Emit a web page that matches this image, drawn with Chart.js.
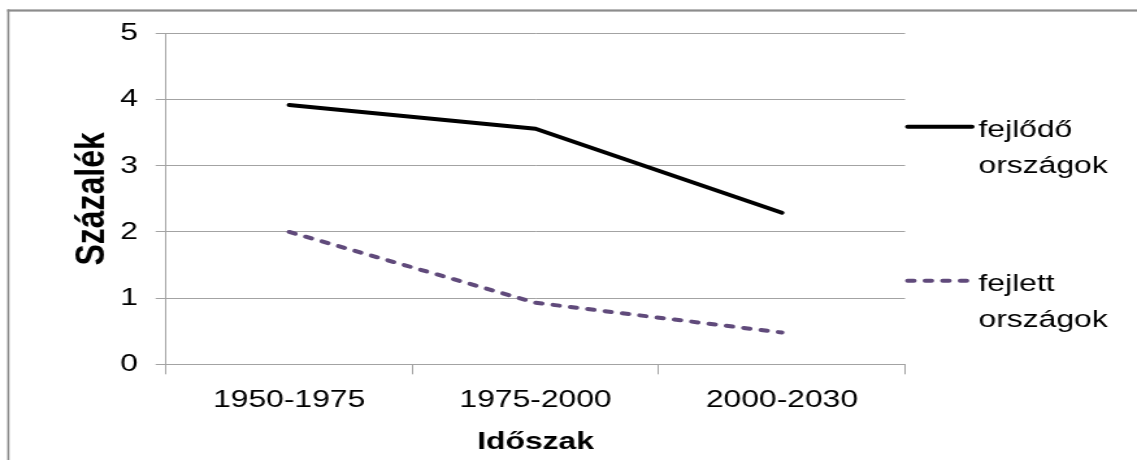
<!DOCTYPE html>
<html lang="hu">
<head>
<meta charset="utf-8">
<title>Növekedési ütem időszakonként</title>
<script src="https://cdn.jsdelivr.net/npm/chart.js@4.4.1/dist/chart.umd.min.js"></script>
<style>
  html, body { margin: 0; padding: 0; background: #fff; overflow: hidden; }
  /* the drawing is laid out on a narrower canvas and widened to the page width */
  #wrap { width: 875px; height: 460px; transform: scaleX(1.29943); transform-origin: 0 0; }
  canvas { display: block; }
</style>
</head>
<body>
<div id="wrap"><canvas id="chart" width="875" height="460"></canvas></div>
<script>
// Periods on the category axis
const periods = ['1950-1975', '1975-2000', '2000-2030'];
// Annual growth, percent
const developing = [3.92, 3.56, 2.29];
const developed = [2.0, 0.93, 0.48];
// Series and axis names
const seriesNames = ['fejlődő országok', 'fejlett országok'];
const axisTitles = { x: 'Időszak', y: 'Százalék' };

const FONT = "'Liberation Sans', Arial, Helvetica, sans-serif";
const GRID = '#a3a3a3';
Chart.defaults.font.family = FONT;

// White page with the grey frame around the chart object
const frame = {
  id: 'frame',
  beforeDraw(chart) {
    const ctx = chart.ctx;
    ctx.save();
    ctx.fillStyle = '#fff';
    ctx.fillRect(0, 0, chart.width, chart.height);
    ctx.fillStyle = '#8c8c8c';
    ctx.fillRect(5.6, 9.4, chart.width, 2.2);
    ctx.fillRect(5.6, 9.4, 1.6, chart.height);
    ctx.restore();
  }
};

// Legend to the right of the plot: line sample plus name wrapped onto two lines
const sideLegend = {
  id: 'sideLegend',
  afterDraw(chart, args, opts) {
    const ctx = chart.ctx;
    const x0 = chart.chartArea.right;
    ctx.save();
    chart.data.datasets.forEach((ds, i) => {
      const y = opts.rows[i];
      ctx.beginPath();
      ctx.strokeStyle = ds.borderColor;
      ctx.lineWidth = ds.borderWidth;
      ctx.lineCap = ds.borderCapStyle || 'butt';
      ctx.setLineDash(ds.borderDash || []);
      ctx.moveTo(x0 + opts.lineStart, y);
      ctx.lineTo(x0 + opts.lineEnd, y);
      ctx.stroke();
      ctx.setLineDash([]);
      ctx.fillStyle = '#000';
      ctx.font = opts.fontSize + 'px ' + FONT;
      ctx.textAlign = 'left';
      ctx.textBaseline = 'alphabetic';
      ds.label.split(' ').forEach((word, k) => {
        ctx.fillText(word, x0 + opts.textGap, y + opts.baselineShift + k * opts.lineGap);
      });
    });
    ctx.restore();
  }
};

new Chart(document.getElementById('chart'), {
  type: 'line',
  data: {
    labels: periods,
    datasets: [
      {
        label: seriesNames[0],
        data: developing,
        borderColor: '#000000',
        borderWidth: 4,
        borderCapStyle: 'round',
        borderJoinStyle: 'round',
        pointRadius: 0,
        tension: 0,
        fill: false
      },
      {
        label: seriesNames[1],
        data: developed,
        borderColor: '#604A7B',
        borderWidth: 4,
        borderDash: [4.9, 8.6],
        borderCapStyle: 'round',
        borderJoinStyle: 'round',
        pointRadius: 0,
        tension: 0,
        fill: false
      }
    ]
  },
  options: {
    responsive: false,
    animation: false,
    devicePixelRatio: 1,
    layout: { padding: { left: 0, top: 33.5, right: 178.5, bottom: 3 } },
    plugins: {
      legend: { display: false },
      tooltip: { enabled: false },
      sideLegend: {
        rows: [126.7, 280.7],
        lineStart: 2,
        lineEnd: 51.5,
        textGap: 56.5,
        baselineShift: 10,
        lineGap: 36.6,
        fontSize: 24.5
      }
    },
    scales: {
      x: {
        offset: true,
        grid: { offset: true, drawOnChartArea: false, drawTicks: true, tickLength: 10, color: GRID, lineWidth: 1 },
        border: { display: true, color: GRID, width: 1 },
        ticks: { padding: 11.5, color: '#000', font: { size: 24.5 }, maxRotation: 0, autoSkip: false },
        title: { display: true, text: axisTitles.x, color: '#000', font: { size: 24.5, weight: 'bold' }, padding: 0 },
        afterFit(scale) { scale.height = 92.7; }
      },
      y: {
        min: 0,
        max: 5,
        ticks: { stepSize: 1, padding: 13.5, color: '#000', font: { size: 24.5 } },
        grid: { color: GRID, tickLength: 8, lineWidth: 1 },
        border: { display: true, color: GRID, width: 1 },
        title: { display: true, text: axisTitles.y, color: '#000', font: { size: 32, weight: 'bold' }, padding: { top: 52, bottom: 0 } },
        afterFit(scale) { scale.width = 127.75; }
      }
    }
  },
  plugins: [frame, sideLegend]
});
</script>
</body>
</html>
